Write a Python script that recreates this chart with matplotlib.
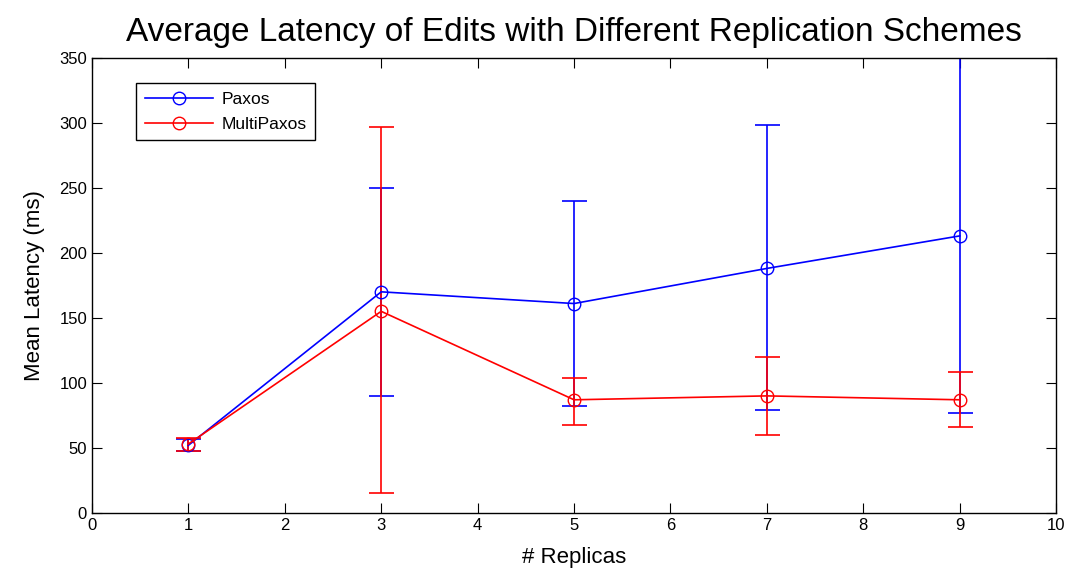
import matplotlib
matplotlib.use("Agg")
import matplotlib.pyplot as plt
from matplotlib.lines import Line2D
import numpy as np

plt.rcParams['font.family'] = ['Liberation Sans', 'DejaVu Sans']

replicas = [1, 3, 5, 7, 9]
paxos_mean = [52, 170, 161, 188, 213]
paxos_low = [48, 90, 82, 79, 77]
paxos_high = [57, 250, 240, 298, 420]
multi_mean = [53, 155, 87, 90, 87]
multi_low = [48, 15, 68, 60, 66]
multi_high = [58, 297, 104, 120, 108]
series_names = ['Paxos', 'MultiPaxos']

fig = plt.figure(figsize=(10.69, 5.77), dpi=100)
ax = fig.add_axes([0.086, 0.111, 0.902, 0.789])

def errs(mean, low, high):
    m = np.array(mean, float)
    return [m - np.array(low), np.array(high) - m]

colors = ['#0000ff', '#ff0000']
data = [(paxos_mean, paxos_low, paxos_high), (multi_mean, multi_low, multi_high)]
handles = []
for (mean, low, high), c, name in zip(data, colors, series_names):
    ax.errorbar(replicas, mean, yerr=errs(mean, low, high),
                color=c, marker='o', mfc='none', mec=c, ms=9, lw=1.2,
                elinewidth=1.2, capsize=9, capthick=1.2)
    handles.append(Line2D([], [], color=c, marker='o', mfc='none', mec=c, ms=9, lw=1.2, label=name))

ax.set_xlim(0, 10)
ax.set_ylim(0, 350)
ax.set_xticks(range(0, 11))
ax.set_yticks(range(0, 351, 50))
ax.tick_params(direction='in', top=True, right=True, labelsize=12, length=7)
for s in ax.spines.values():
    s.set_linewidth(1.0)

ax.set_xlabel('# Replicas', fontsize=16, labelpad=10)
ax.set_ylabel('Mean Latency (ms)', fontsize=16, labelpad=10)
ax.set_title('Average Latency of Edits with Different Replication Schemes', fontsize=24, pad=12)

leg = ax.legend(handles=handles, loc='upper left', bbox_to_anchor=(0.037, 0.963), fontsize=12.5,
                fancybox=False, edgecolor='black', framealpha=1, handlelength=3.9,
                borderpad=0.5, labelspacing=0.55, handletextpad=0.5)
leg.get_frame().set_linewidth(1.0)

fig.savefig('out.png', dpi=100)
